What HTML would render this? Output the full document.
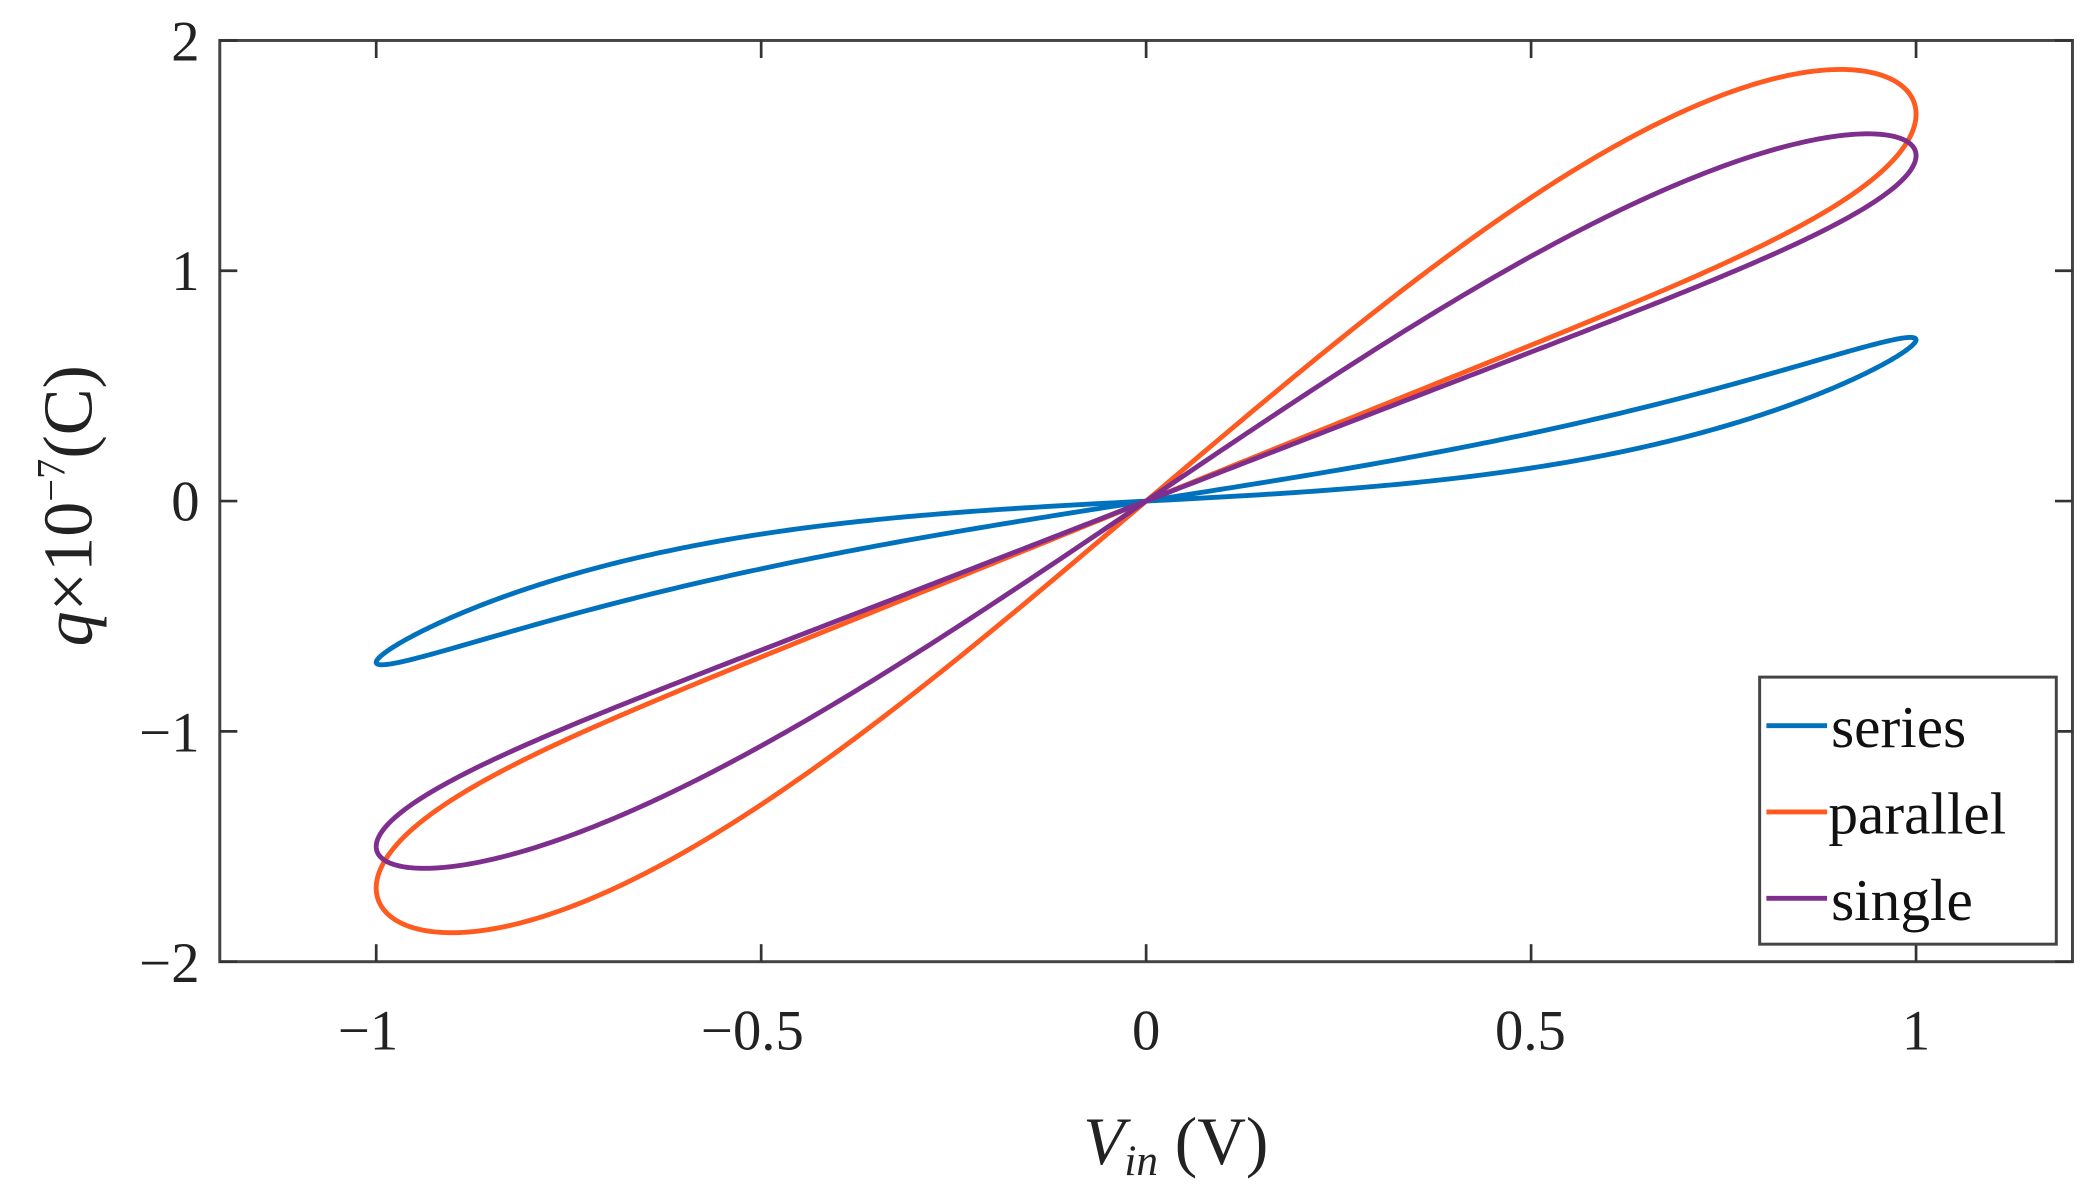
<!DOCTYPE html>
<html><head><style>html,body{margin:0;padding:0;background:#fff;}svg{display:block}</style></head>
<body>
<svg id="s" width="2090" height="1191" viewBox="0 0 1550 883" preserveAspectRatio="none" xmlns="http://www.w3.org/2000/svg" font-family="Liberation Serif, serif">
<rect width="1550" height="883" fill="#fff"/>
<g id="curves" fill="none" stroke-width="3.6" stroke-linejoin="round"></g>
<rect x="163" y="30" width="1374" height="683" fill="none" stroke="#444" stroke-width="2.2"/>
<g stroke="#333" stroke-width="2">
<line x1="279" y1="713" x2="279" y2="700"/><line x1="564.5" y1="713" x2="564.5" y2="700"/><line x1="850" y1="713" x2="850" y2="700"/><line x1="1135.5" y1="713" x2="1135.5" y2="700"/><line x1="1421" y1="713" x2="1421" y2="700"/>
<line x1="279" y1="30" x2="279" y2="43"/><line x1="564.5" y1="30" x2="564.5" y2="43"/><line x1="850" y1="30" x2="850" y2="43"/><line x1="1135.5" y1="30" x2="1135.5" y2="43"/><line x1="1421" y1="30" x2="1421" y2="43"/>
<line x1="163" y1="30" x2="176" y2="30"/><line x1="163" y1="200.75" x2="176" y2="200.75"/><line x1="163" y1="371.5" x2="176" y2="371.5"/><line x1="163" y1="542.25" x2="176" y2="542.25"/><line x1="163" y1="713" x2="176" y2="713"/>
<line x1="1537" y1="30" x2="1524" y2="30"/><line x1="1537" y1="200.75" x2="1524" y2="200.75"/><line x1="1537" y1="371.5" x2="1524" y2="371.5"/><line x1="1537" y1="542.25" x2="1524" y2="542.25"/><line x1="1537" y1="713" x2="1524" y2="713"/>
</g>
<g font-size="42" fill="#222" text-anchor="end">
<text x="148" y="45">2</text><text x="148" y="215">1</text><text x="148" y="386">0</text><text x="148" y="557">−1</text><text x="148" y="728">−2</text>
</g>
<g font-size="42" fill="#222" text-anchor="middle">
<text x="273" y="778">−1</text><text x="558" y="778">−0.5</text><text x="850" y="778">0</text><text x="1135" y="778">0.5</text><text x="1421" y="778">1</text>
</g>
<text x="872" y="863" font-size="50" text-anchor="middle" fill="#222"><tspan font-style="italic">V</tspan><tspan font-style="italic" font-size="32" dy="8">in</tspan><tspan dy="-8"> (V)</tspan></text>
<text transform="translate(68,375) rotate(-90)" font-size="52" text-anchor="middle" fill="#222"><tspan font-style="italic">q</tspan>×10<tspan font-size="30" dy="-20">−7</tspan><tspan dy="20">(C)</tspan></text>
<rect x="1305" y="502" width="220" height="198" fill="#fff" stroke="#444" stroke-width="2.2"/>
<g stroke-width="3.6">
<line x1="1310" y1="538" x2="1355" y2="538" stroke="#0072BD"/>
<line x1="1310" y1="602" x2="1355" y2="602" stroke="#FF5A1F"/>
<line x1="1310" y1="666" x2="1355" y2="666" stroke="#7E2F8E"/>
</g>
<g font-size="44" fill="#111">
<text x="1358" y="554">series</text><text x="1356" y="618">parallel</text><text x="1358" y="682">single</text>
</g>
</svg>
<script>
(function(){
 var g=document.getElementById('curves');
 var sets=[[0.35,0.35,0.087,'#0072BD'],[2.1,-0.42,0.37,'#FF5A1F'],[1.78,-0.28,0.24,'#7E2F8E']];
 sets.forEach(function(s){
  var d='';
  for(var i=0;i<=720;i++){
   var t=i/720*2*Math.PI, x=Math.sin(t);
   var y=s[0]*x+s[1]*x*x*x+s[2]*Math.sin(2*t);
   var px=850+x*571, py=371.5-y*170.75;
   d+=(i?'L':'M')+px.toFixed(2)+' '+py.toFixed(2);
  }
  var p=document.createElementNS('http://www.w3.org/2000/svg','path');
  p.setAttribute('d',d+'Z');p.setAttribute('stroke',s[3]);g.appendChild(p);
 });
})();
</script>
</body></html>
